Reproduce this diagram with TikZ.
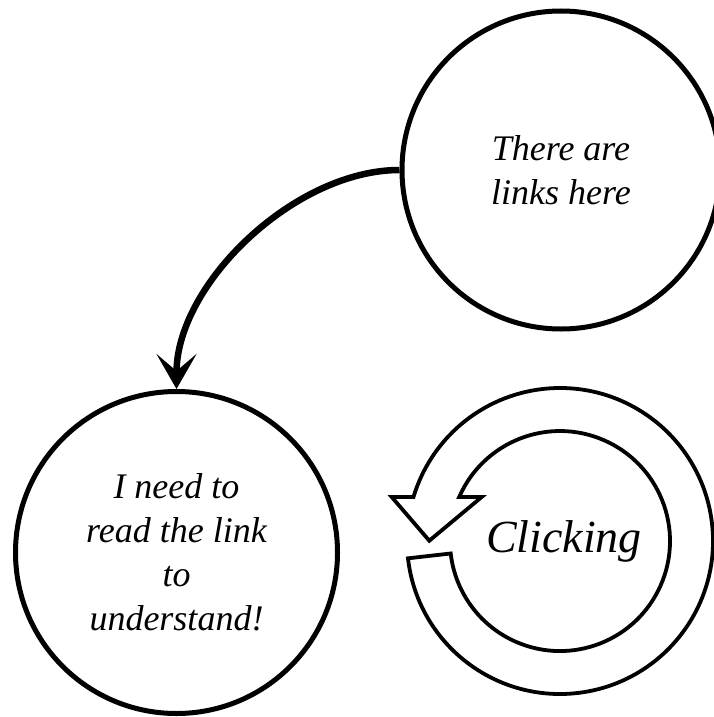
\documentclass[tikz,border=0pt]{standalone}
\usepackage{fontspec}
\setmainfont{Liberation Serif}
\usetikzlibrary{arrows.meta}
\tikzset{
  bubble/.style={draw=black, line width=5pt, circle, inner sep=0pt, align=center,
    font={\fontsize{36}{44}\selectfont\itshape}},
  linkarrow/.style={line width=6.5pt, -{Stealth[length=35pt,width=40pt,inset=17pt]}},
  ring/.style={draw=black, line width=3.8pt, fill=white, line join=miter},
  ringlabel/.style={font={\fontsize{46}{50}\selectfont\itshape}, inner sep=0pt}
}
\begin{document}
\begin{tikzpicture}[x=1pt,y=-1pt]
\useasboundingbox (0,0) rectangle (713,717);
\fill[white] (0,0) rectangle (713,717);
\node[bubble, minimum size=318pt] (tr) at (561,170) {There are\\links here};
\node[bubble, minimum size=322pt] (bl) at (176.5,552.5) {I need to\\read the link\\to\\understand!};
\draw[linkarrow] (tr.west) .. controls +(-105,0) and +(0,-105) .. (bl.north);
\coordinate (rc) at (560,541);
\draw[ring] (rc) ++(173.5:153) arc[start angle=173.5, end angle=-163.3, radius=153]
  -- (391.7,497) -- (429.3,540.7) -- (481.7,497) -- (459.2,497)
  arc[start angle=-156.4, end angle=173.5, radius=110] -- cycle;
\node[ringlabel] (click) at (564,541) {Clicking};
\end{tikzpicture}
\end{document}
